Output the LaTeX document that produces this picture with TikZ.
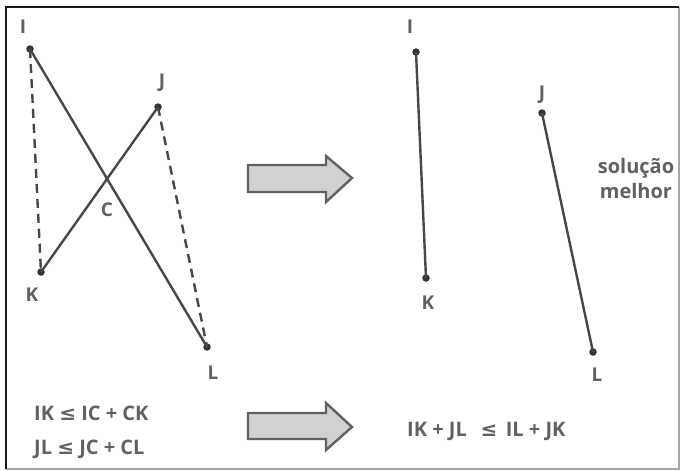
\documentclass[tikz,border=0pt]{standalone}
\usepackage{fontspec}
\setmainfont{Open Sans}
\newfontfamily\symfont{DejaVu Sans}
\begin{document}
\begin{tikzpicture}[x=1pt,y=-1pt,
  pt/.style={circle,fill=black!80,inner sep=0pt,minimum size=7.5pt},
  lbl/.style={inner sep=0pt,text=black!62,font=\bfseries\fontsize{19}{22}\selectfont},
  eqn/.style={lbl,anchor=west,font=\bfseries\fontsize{20}{24}\selectfont},
  seg/.style={draw=black!72,line width=2.4pt},
  dseg/.style={draw=black!72,line width=2.4pt,dash pattern=on 9pt off 6pt},
  bigarrow/.style={draw=black!62,fill=black!18,line width=2.4pt,line join=miter}]
\useasboundingbox (0,0) rectangle (681,471);
\fill[white] (0,0) rectangle (681,471);
% frame
\draw[black!35,line width=1.2pt] (679,7) -- (679,469) -- (6,469);
\draw[black!90,line width=2.4pt] (6,469) -- (6,7) -- (679,7);
% left configuration
\node[pt] (I1) at (30,49) {};
\node[pt] (J1) at (158,107) {};
\node[pt] (K1) at (41,272) {};
\node[pt] (L1) at (207,347) {};
\draw[seg] (I1.center) -- (L1.center);
\draw[seg] (K1.center) -- (J1.center);
\draw[dseg] (I1.center) -- (K1.center);
\draw[dseg] (J1.center) -- (L1.center);
\node[lbl] (tI1) at (23,27) {I};
\node[lbl] (tJ1) at (162,83) {J};
\node[lbl] (tK1) at (32,295) {K};
\node[lbl] (tL1) at (213,373) {L};
\node[lbl] (tC) at (107,210) {C};
% right configuration
\node[pt] (I2) at (416,52) {};
\node[pt] (K2) at (426,278) {};
\node[pt] (J2) at (542,113) {};
\node[pt] (L2) at (593,352) {};
\draw[seg] (I2.center) -- (K2.center);
\draw[seg] (J2.center) -- (L2.center);
\node[lbl] (tI2) at (410,27) {I};
\node[lbl] (tK2) at (428,303) {K};
\node[lbl] (tJ2) at (542,95) {J};
\node[lbl] (tL2) at (597,375) {L};
\node[lbl,align=center,font=\bfseries\fontsize{20}{25}\selectfont] (sol) at (636,178) {solução\\melhor};
% arrows
\draw[bigarrow] (248,165) -- (326,165) -- (326,156) -- (352,178) -- (326,202) -- (326,192) -- (248,192) -- cycle;
\draw[bigarrow] (248,413) -- (326,413) -- (326,403) -- (352,427) -- (326,450) -- (326,439) -- (248,439) -- cycle;
% inequalities
\node[eqn] (eq1) at (34,413) {IK {\symfont\bfseries ≤} IC + CK};
\node[eqn] (eq2) at (34,449) {JL {\symfont\bfseries ≤} JC + CL};
\node[eqn] (eq3) at (407,431) {IK + JL \ \,{\symfont\bfseries ≤}\, IL + JK};
\end{tikzpicture}
\end{document}
